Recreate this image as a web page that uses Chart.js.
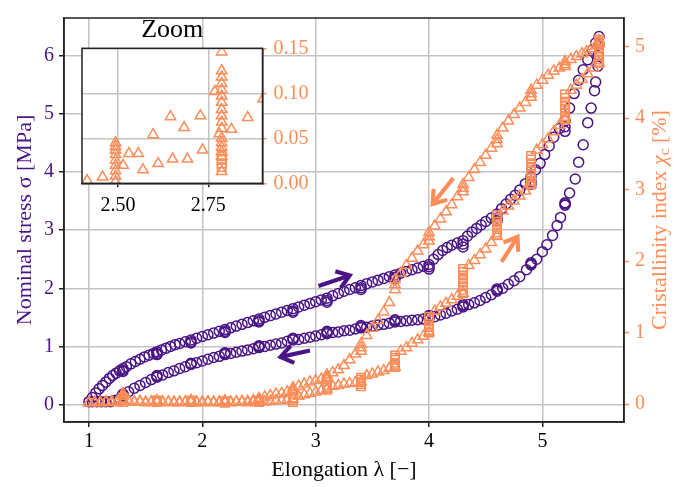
<!DOCTYPE html>
<html><head><meta charset="utf-8">
<script src="https://cdn.jsdelivr.net/npm/chart.js@4.4.1/dist/chart.umd.min.js"></script>
<style>
html,body{margin:0;padding:0;background:#fff;}
#wrap{position:relative;width:698px;height:487px;overflow:hidden;}
#main{position:absolute;left:0;top:0;}
#inset{position:absolute;left:0;top:0;}
</style></head><body>
<div id="wrap"><canvas id="main" width="698" height="487"></canvas><canvas id="inset" width="360" height="230"></canvas></div>
<script>
// ---------- tick labels ----------
const xTicks = [1, 2, 3, 4, 5];
const stressTicks = [0, 1, 2, 3, 4, 5, 6];
const crystTicks = [0, 1, 2, 3, 4, 5];
const zoomXTicks = [2.5, 2.75];
const zoomYTicks = [0, 0.05, 0.10, 0.15];

// ---------- nominal stress, loading (MPa) ----------
const stressLoadLambda = [1.00,1.03,1.06,1.09,1.12,1.15,1.18,1.21,1.24,1.27,1.30,1.30,1.30,1.33,1.37,1.41,1.45,1.49,1.53,1.57,1.60,1.60,1.60,1.64,1.68,1.72,1.76,1.80,1.85,1.90,1.90,1.90,1.95,2.00,2.05,2.10,2.15,2.20,2.20,2.20,2.25,2.30,2.35,2.40,2.45,2.50,2.50,2.50,2.55,2.60,2.65,2.70,2.75,2.80,2.80,2.80,2.85,2.90,2.95,3.00,3.05,3.10,3.10,3.10,3.15,3.20,3.25,3.30,3.35,3.40,3.40,3.40,3.45,3.50,3.55,3.60,3.65,3.70,3.70,3.70,3.75,3.80,3.85,3.90,3.95,4.00,4.00,4.00,4.04,4.08,4.12,4.16,4.20,4.25,4.30,4.30,4.30,4.34,4.38,4.42,4.46,4.50,4.55,4.60,4.60,4.60,4.64,4.68,4.72,4.76,4.80,4.85,4.90,4.90,4.90,4.94,4.98,5.02,5.06,5.10,5.15,5.20,5.20,5.20,5.24,5.28,5.32,5.36,5.40,5.44,5.47,5.50];
const stressLoadSigma = [0.05,0.12,0.20,0.27,0.33,0.39,0.45,0.50,0.54,0.58,0.62,0.59,0.57,0.65,0.70,0.74,0.78,0.82,0.85,0.88,0.91,0.88,0.86,0.94,0.97,1.00,1.03,1.05,1.08,1.11,1.08,1.06,1.14,1.17,1.20,1.23,1.26,1.29,1.26,1.24,1.32,1.35,1.38,1.41,1.44,1.47,1.44,1.42,1.50,1.53,1.56,1.59,1.62,1.65,1.61,1.59,1.68,1.71,1.74,1.77,1.80,1.83,1.79,1.76,1.87,1.91,1.95,1.98,2.01,2.05,2.01,1.98,2.08,2.11,2.14,2.17,2.20,2.23,2.19,2.16,2.26,2.29,2.32,2.35,2.38,2.41,2.37,2.33,2.50,2.58,2.65,2.70,2.74,2.78,2.82,2.76,2.71,2.90,2.97,3.03,3.09,3.15,3.21,3.28,3.21,3.16,3.37,3.45,3.53,3.60,3.69,3.80,3.92,3.84,3.79,4.04,4.15,4.30,4.45,4.60,4.75,4.88,4.78,4.70,5.10,5.35,5.58,5.76,5.93,6.10,6.22,6.33];

// ---------- nominal stress, unloading (MPa) ----------
const stressUnloadLambda = [5.50,5.49,5.49,5.47,5.46,5.43,5.40,5.36,5.32,5.29,5.24,5.20,5.20,5.20,5.16,5.13,5.09,5.04,5.00,4.95,4.90,4.90,4.90,4.86,4.80,4.75,4.70,4.65,4.60,4.60,4.60,4.55,4.50,4.45,4.40,4.35,4.30,4.30,4.30,4.25,4.20,4.15,4.10,4.05,4.00,4.00,4.00,3.95,3.90,3.85,3.80,3.75,3.70,3.70,3.70,3.65,3.60,3.55,3.50,3.45,3.40,3.40,3.40,3.35,3.30,3.25,3.20,3.15,3.10,3.10,3.10,3.05,3.00,2.95,2.90,2.85,2.80,2.80,2.80,2.75,2.70,2.65,2.60,2.55,2.50,2.50,2.50,2.45,2.40,2.35,2.30,2.25,2.20,2.20,2.20,2.15,2.10,2.05,2.00,1.95,1.90,1.90,1.90,1.85,1.80,1.75,1.70,1.65,1.60,1.60,1.60,1.55,1.50,1.45,1.40,1.35,1.30,1.30,1.30,1.27,1.23,1.19,1.15,1.11,1.07,1.03];
const stressUnloadSigma = [6.20,6.00,5.82,5.55,5.40,5.10,4.85,4.47,4.17,3.88,3.64,3.43,3.45,3.47,3.22,3.08,2.91,2.75,2.63,2.50,2.40,2.42,2.44,2.32,2.20,2.13,2.07,2.00,1.95,1.97,1.99,1.89,1.84,1.79,1.75,1.72,1.68,1.70,1.72,1.64,1.61,1.57,1.54,1.51,1.49,1.51,1.53,1.47,1.46,1.45,1.44,1.43,1.42,1.44,1.46,1.40,1.38,1.37,1.35,1.33,1.32,1.34,1.36,1.30,1.28,1.27,1.25,1.24,1.22,1.24,1.26,1.20,1.18,1.16,1.14,1.12,1.11,1.13,1.14,1.09,1.06,1.04,1.02,1.00,0.98,1.00,1.01,0.96,0.94,0.92,0.90,0.88,0.86,0.88,0.89,0.83,0.81,0.78,0.75,0.72,0.69,0.70,0.71,0.65,0.62,0.58,0.55,0.51,0.47,0.49,0.50,0.43,0.38,0.33,0.28,0.22,0.16,0.17,0.18,0.10,0.07,0.05,0.05,0.05,0.05,0.05];

// ---------- crystallinity index, loading (%) ----------
const crystLoadLambda = [1.00,1.05,1.10,1.15,1.20,1.25,1.30,1.35,1.40,1.45,1.50,1.55,1.60,1.65,1.70,1.75,1.80,1.85,1.90,1.95,2.00,2.05,2.10,2.15,2.20,2.25,2.30,2.35,2.40,2.45,2.50,2.55,2.60,2.65,2.70,2.75,2.80,2.85,2.90,2.95,3.00,3.05,3.10,3.15,3.20,3.25,3.30,3.35,3.40,3.45,3.50,3.55,3.60,3.65,3.70,3.75,3.80,3.85,3.90,3.95,4.00,4.05,4.10,4.15,4.20,4.25,4.30,4.35,4.40,4.45,4.50,4.55,4.60,4.65,4.70,4.75,4.80,4.85,4.90,4.95,5.00,5.05,5.10,5.15,5.20,5.25,5.30,5.35,5.40,5.45,5.50];
const crystLoadChi = [0.02,0.03,0.02,0.03,0.03,0.04,0.05,0.04,0.03,0.04,0.03,0.03,0.04,0.03,0.03,0.02,0.03,0.03,0.04,0.03,0.02,0.03,0.03,0.02,0.03,0.02,0.03,0.03,0.02,0.03,0.04,0.03,0.04,0.05,0.05,0.06,0.07,0.11,0.13,0.15,0.17,0.19,0.21,0.25,0.26,0.28,0.29,0.30,0.31,0.40,0.42,0.45,0.47,0.50,0.52,0.74,0.79,0.85,0.90,0.95,1.00,1.30,1.36,1.41,1.46,1.51,1.55,1.94,2.01,2.09,2.17,2.26,2.35,2.70,2.77,2.84,2.91,2.98,3.07,3.55,3.63,3.71,3.81,3.90,3.98,4.39,4.46,4.54,4.62,4.70,4.77];

// ---------- crystallinity index during the relaxation holds (%) ----------
const holdLambda = [1.30,1.30,1.30,1.60,1.60,1.90,1.90,2.20,2.20,2.50,2.50,2.80,2.80,2.80,3.10,3.10,3.10,3.40,3.40,3.40,3.40,3.40,3.70,3.70,3.70,3.70,3.70,3.70,4.00,4.00,4.00,4.00,4.00,4.00,4.30,4.30,4.30,4.30,4.30,4.30,4.30,4.30,4.60,4.60,4.60,4.60,4.60,4.60,4.60,4.90,4.90,4.90,4.90,4.90,4.90,4.90,4.90,4.90,5.20,5.20,5.20,5.20,5.20,5.20,5.20,5.20,5.50,5.50,5.50,5.50,5.50,5.50,5.50,5.50];
const holdChi = [0.03,0.06,0.09,0.03,0.05,0.03,0.05,0.02,0.04,0.03,0.05,0.03,0.06,0.09,0.20,0.23,0.26,0.25,0.28,0.31,0.34,0.37,0.52,0.55,0.58,0.62,0.65,0.68,1.00,1.04,1.08,1.12,1.17,1.22,1.55,1.60,1.65,1.70,1.75,1.80,1.85,1.89,2.36,2.40,2.45,2.50,2.55,2.60,2.64,3.07,3.12,3.17,3.22,3.27,3.32,3.37,3.42,3.47,3.98,4.03,4.08,4.13,4.18,4.23,4.28,4.33,4.77,4.82,4.87,4.92,4.97,5.02,5.07,5.10];

// ---------- crystallinity index, unloading (%) ----------
const crystUnloadLambda = [5.50,5.50,5.47,5.43,5.39,5.35,5.30,5.25,5.20,5.20,5.20,5.15,5.10,5.05,5.00,4.95,4.90,4.90,4.90,4.85,4.80,4.75,4.70,4.65,4.60,4.60,4.60,4.55,4.50,4.45,4.40,4.35,4.30,4.30,4.30,4.25,4.20,4.15,4.10,4.05,4.00,4.00,4.00,3.95,3.90,3.85,3.80,3.75,3.70,3.70,3.70,3.65,3.60,3.55,3.50,3.45,3.40,3.40,3.40,3.35,3.30,3.25,3.20,3.15,3.10,3.10,3.10,3.05,3.00,2.95,2.90,2.85,2.80,2.80,2.80,2.75,2.70,2.65,2.60,2.55,2.50,2.50,2.45,2.40,2.35,2.30,2.25,2.20,2.20,2.15,2.10,2.05,2.00,1.95,1.90,1.90,1.85,1.80,1.75,1.70,1.65,1.60,1.60,1.55,1.50,1.45,1.40,1.35,1.30,1.30,1.30,1.25,1.20,1.15,1.10,1.05,1.00];
const crystUnloadChi = [5.08,5.04,5.01,4.97,4.93,4.90,4.86,4.82,4.79,4.75,4.72,4.70,4.66,4.60,4.53,4.46,4.39,4.34,4.29,4.22,4.14,4.05,3.96,3.86,3.76,3.70,3.64,3.58,3.48,3.38,3.28,3.17,3.07,3.02,2.97,2.90,2.79,2.69,2.59,2.49,2.40,2.34,2.28,2.23,2.14,2.04,1.94,1.83,1.74,1.67,1.60,1.42,1.29,1.17,1.06,0.96,0.84,0.79,0.74,0.70,0.62,0.54,0.48,0.44,0.41,0.38,0.35,0.35,0.33,0.31,0.28,0.25,0.23,0.20,0.17,0.17,0.15,0.14,0.12,0.10,0.08,0.06,0.05,0.04,0.04,0.03,0.03,0.03,0.05,0.03,0.02,0.03,0.03,0.02,0.03,0.05,0.03,0.02,0.03,0.03,0.02,0.03,0.05,0.03,0.02,0.03,0.03,0.04,0.07,0.11,0.15,0.03,0.02,0.03,0.02,0.03,0.02];

// ---------- inset (zoom) ----------
const zoomLambda = [2.414,2.457,2.493,2.493,2.493,2.493,2.493,2.493,2.493,2.493,2.493,2.514,2.530,2.556,2.569,2.597,2.611,2.645,2.651,2.683,2.692,2.728,2.734,2.768,2.780,2.787,2.787,2.787,2.787,2.787,2.787,2.787,2.787,2.787,2.787,2.787,2.787,2.787,2.787,2.787,2.787,2.787,2.814,2.859,2.902];
const zoomChi = [0.003,0.007,0.002,0.008,0.014,0.020,0.026,0.032,0.037,0.041,0.045,0.020,0.033,0.033,0.015,0.054,0.022,0.074,0.027,0.062,0.027,0.075,0.037,0.102,0.055,0.146,0.125,0.118,0.111,0.104,0.097,0.090,0.082,0.075,0.068,0.061,0.050,0.045,0.040,0.035,0.030,0.013,0.060,0.073,0.094];
const zoomHoldLambda = [2.787,2.787,2.787,2.787];
const zoomHoldChi = [0.018,0.022,0.026,0.030];

// ---------- arrows: [x0, y0, x1, y1] in data units ----------
const stressArrows = [[3.025,2.04,3.30,2.22],[2.95,0.93,2.69,0.82]];
const crystArrows = [[4.214,3.16,4.033,2.80],[4.64,1.99,4.78,2.34]];

// ---------- styling ----------
const PURPLE = '#4a1486';
const ORANGE = '#fc8d59';
const FONT = '"Liberation Serif", "Times New Roman", serif';
const GRID = '#c4c4c4';
const SPINE = '#222222';

const pts = (xs, ys) => xs.map((x, i) => ({x: x, y: ys[i]}));
const setTicks = arr => (s => { s.ticks = arr.map(v => ({value: v})); });

const framePlugin = {
  id: 'frame',
  afterDraw(chart) {
    const a = chart.chartArea, ctx = chart.ctx;
    ctx.save();
    ctx.strokeStyle = SPINE; ctx.lineWidth = 1.5;
    ctx.strokeRect(a.left, a.top, a.right - a.left, a.bottom - a.top);
    ctx.restore();
  }
};

function drawArrow(ctx, x0, y0, x1, y1, color) {
  const ang = Math.atan2(y1 - y0, x1 - x0);
  const hl = 15, ha = 0.62;
  ctx.save();
  ctx.strokeStyle = color; ctx.lineWidth = 4.2; ctx.lineCap = 'butt'; ctx.lineJoin = 'miter';
  ctx.beginPath(); ctx.moveTo(x0, y0); ctx.lineTo(x1 - 1.5 * Math.cos(ang), y1 - 1.5 * Math.sin(ang)); ctx.stroke();
  ctx.beginPath();
  ctx.moveTo(x1 - hl * Math.cos(ang - ha), y1 - hl * Math.sin(ang - ha));
  ctx.lineTo(x1, y1);
  ctx.lineTo(x1 - hl * Math.cos(ang + ha), y1 - hl * Math.sin(ang + ha));
  ctx.stroke();
  ctx.restore();
}

const arrowPlugin = {
  id: 'arrows',
  afterDatasetsDraw(chart) {
    const ctx = chart.ctx, sx = chart.scales.x, sy = chart.scales.y, sy2 = chart.scales.y2;
    stressArrows.forEach(a => drawArrow(ctx, sx.getPixelForValue(a[0]), sy.getPixelForValue(a[1]), sx.getPixelForValue(a[2]), sy.getPixelForValue(a[3]), PURPLE));
    crystArrows.forEach(a => drawArrow(ctx, sx.getPixelForValue(a[0]), sy2.getPixelForValue(a[1]), sx.getPixelForValue(a[2]), sy2.getPixelForValue(a[3]), ORANGE));
  }
};

const rightTitlePlugin = {
  id: 'rightTitle',
  afterDraw(chart) {
    const ctx = chart.ctx, a = chart.chartArea;
    const parts = [
      ['Cristallinity index ', '22px ' + FONT, 0],
      ['\u03C7', 'italic 22px ' + FONT, 0],
      ['c', '15px ' + FONT, 5],
      [' [%]', '22px ' + FONT, 0]
    ];
    ctx.save();
    let total = 0;
    parts.forEach(p => { ctx.font = p[1]; p.push(ctx.measureText(p[0]).width); total += p[3]; });
    ctx.translate(660, (a.top + a.bottom) / 2);
    ctx.rotate(-Math.PI / 2);
    ctx.fillStyle = ORANGE; ctx.textBaseline = 'middle'; ctx.textAlign = 'left';
    let x = -total / 2;
    parts.forEach(p => { ctx.font = p[1]; ctx.fillText(p[0], x, p[2]); x += p[3]; });
    ctx.restore();
  }
};

const whiteArea = {
  id: 'whiteArea',
  beforeDraw(chart) {
    const a = chart.chartArea, ctx = chart.ctx;
    ctx.save(); ctx.fillStyle = '#ffffff';
    ctx.fillRect(a.left, a.top, a.right - a.left, a.bottom - a.top);
    ctx.restore();
  }
};

const ptStyle = (style, r, color) => ({
  pointStyle: style, pointRadius: r, pointHoverRadius: r,
  borderColor: color, pointBorderColor: color,
  backgroundColor: 'rgba(0,0,0,0)', pointBackgroundColor: 'rgba(0,0,0,0)',
  borderWidth: 1.5, pointBorderWidth: 1.5, showLine: false
});

new Chart(document.getElementById('main'), {
  type: 'scatter',
  data: {
    datasets: [
      Object.assign({label: 'Crystallinity index (hold)', data: pts(holdLambda, holdChi), yAxisID: 'y2', order: 1}, ptStyle('rect', 6, ORANGE)),
      Object.assign({label: 'Crystallinity index (loading)', data: pts(crystLoadLambda, crystLoadChi), yAxisID: 'y2', order: 1}, ptStyle('triangle', 6, ORANGE)),
      Object.assign({label: 'Crystallinity index (unloading)', data: pts(crystUnloadLambda, crystUnloadChi), yAxisID: 'y2', order: 1}, ptStyle('triangle', 6, ORANGE)),
      Object.assign({label: 'Nominal stress (loading)', data: pts(stressLoadLambda, stressLoadSigma), yAxisID: 'y', order: 2}, ptStyle('circle', 5, PURPLE)),
      Object.assign({label: 'Nominal stress (unloading)', data: pts(stressUnloadLambda, stressUnloadSigma), yAxisID: 'y', order: 2}, ptStyle('circle', 5, PURPLE))
    ]
  },
  options: {
    responsive: false, animation: false, devicePixelRatio: 1, events: [],
    layout: {autoPadding: false, padding: {top: 5, left: 0, right: 0, bottom: 0}},
    plugins: {legend: {display: false}, tooltip: {enabled: false}},
    scales: {
      x: {
        type: 'linear', position: 'bottom', min: 0.78, max: 5.72,
        afterBuildTicks: setTicks(xTicks),
        afterFit: s => { s.height = 65; },
        ticks: {color: '#000', font: {family: FONT, size: 20}, padding: 3, callback: v => String(v)},
        grid: {color: GRID, lineWidth: 1.5, tickColor: SPINE, tickLength: 5, tickWidth: 1.5},
        border: {color: SPINE, width: 1.5},
        title: {display: true, text: 'Elongation \u03BB [\u2212]', color: '#000', font: {family: FONT, size: 22}, padding: {top: 0, bottom: 4}}
      },
      y: {
        type: 'linear', position: 'left', min: -0.3, max: 6.65,
        afterBuildTicks: setTicks(stressTicks),
        afterFit: s => { s.width = 64; },
        ticks: {color: PURPLE, font: {family: FONT, size: 20}, padding: 5, callback: v => String(v)},
        grid: {color: GRID, lineWidth: 1.5, tickColor: SPINE, tickLength: 5, tickWidth: 1.5},
        border: {color: SPINE, width: 1.5},
        title: {display: true, text: 'Nominal stress \u03C3 [MPa]', color: PURPLE, font: {family: FONT, size: 22}, padding: {top: 12, bottom: 0}}
      },
      y2: {
        type: 'linear', position: 'right', min: -0.25, max: 5.40,
        afterBuildTicks: setTicks(crystTicks),
        afterFit: s => { s.width = 74; },
        ticks: {color: ORANGE, font: {family: FONT, size: 20}, padding: 6, callback: v => String(v)},
        grid: {drawOnChartArea: false, color: GRID, tickColor: ORANGE, tickLength: 5, tickWidth: 1.5},
        border: {color: SPINE, width: 1.5}
      }
    }
  },
  plugins: [arrowPlugin, framePlugin, rightTitlePlugin]
});

new Chart(document.getElementById('inset'), {
  type: 'scatter',
  data: {
    datasets: [
      Object.assign({label: 'Zoom (hold)', data: pts(zoomHoldLambda, zoomHoldChi)}, ptStyle('rect', 6, ORANGE)),
      Object.assign({label: 'Zoom', data: pts(zoomLambda, zoomChi)}, ptStyle('triangle', 6, ORANGE))
    ]
  },
  options: {
    responsive: false, animation: false, devicePixelRatio: 1, events: [],
    layout: {autoPadding: false, padding: {top: 0, left: 82, right: 0, bottom: 0}},
    plugins: {
      legend: {display: false}, tooltip: {enabled: false},
      title: {display: true, text: 'Zoom', fullSize: false, color: '#000', font: {family: FONT, size: 26, weight: 'normal'}, padding: {top: 15, bottom: 2.1}}
    },
    scales: {
      x: {
        type: 'linear', position: 'bottom', min: 2.4, max: 2.9,
        afterBuildTicks: setTicks(zoomXTicks),
        afterFit: s => { s.height = 230 - 183.3; },
        ticks: {color: '#000', font: {family: FONT, size: 20}, padding: 6, callback: v => v.toFixed(2)},
        grid: {color: GRID, lineWidth: 1.5, tickColor: SPINE, tickLength: 4, tickWidth: 1.5},
        border: {color: SPINE, width: 1.5}
      },
      y: {
        type: 'linear', position: 'right', min: 0, max: 0.15,
        afterBuildTicks: setTicks(zoomYTicks),
        afterFit: s => { s.width = 360 - 262.5; },
        ticks: {color: ORANGE, font: {family: FONT, size: 20}, padding: 7, callback: v => v.toFixed(2)},
        grid: {color: GRID, lineWidth: 1.5, tickColor: ORANGE, tickLength: 4, tickWidth: 1.5},
        border: {color: SPINE, width: 1.5}
      }
    }
  },
  plugins: [whiteArea, framePlugin]
});
</script>
</body></html>
